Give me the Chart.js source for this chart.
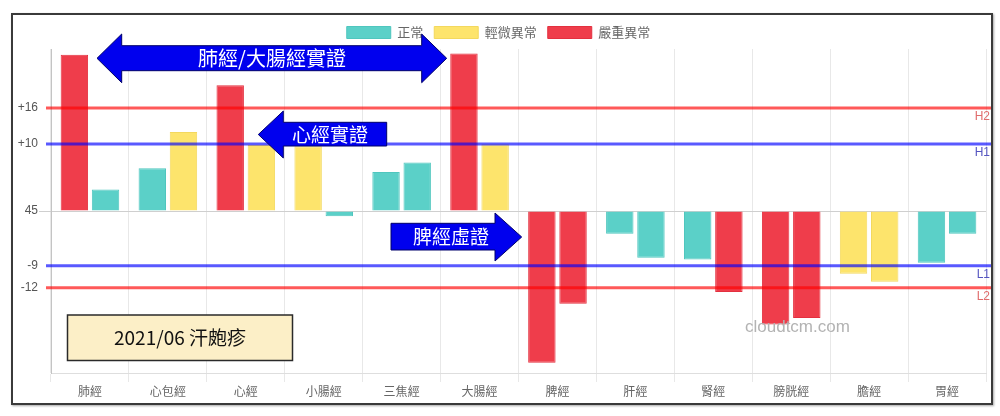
<!DOCTYPE html>
<html><head><meta charset="utf-8">
<script src="https://cdn.jsdelivr.net/npm/chart.js@4"></script>
<style>
html,body{margin:0;padding:0;background:#fff;}
#wrap{position:relative;width:1000px;height:416px;overflow:hidden;}
#frame{position:absolute;left:11px;top:13px;width:978px;height:388px;border:2px solid #3a3a3a;box-shadow:1px 1px 2px rgba(0,0,0,0.35);pointer-events:none;}
canvas{position:absolute;left:0;top:0;}
</style></head>
<body><div id="wrap"><canvas id="c" width="1000" height="416"></canvas><div id="frame"></div></div>
<script>
const categories = ['肺經','心包經','心經','小腸經','三焦經','大腸經','脾經','肝經','腎經','膀胱經','膽經','胃經'];
const leftValues  = [24.1, 6.6, 19.4, 10.0, 6.0, 24.3, -23.4, -3.5, -7.5, -17.5, -9.7, -8.0];
const rightValues = [3.3, 12.2, 10.2, -0.8, 7.5, 10.3, -14.3, -7.2, -12.5, -16.5, -10.9, -3.5];
const leftStatus  = [2, 0, 2, 1, 0, 2, 2, 0, 0, 2, 1, 0];
const rightStatus = [0, 1, 1, 0, 0, 1, 2, 0, 2, 2, 1, 0];
const statusNames = ['正常','輕微異常','嚴重異常'];
const tickValues  = [15.9, 10.35, 0, -8.46, -11.85];
const tickLabels  = ['+16','+10','45','-9','-12'];
const thresholdValues = [15.9, 10.35, -8.46, -11.85];
const thresholdTags   = ['H2','H1','L1','L2'];
const annotationTexts = ['肺經/大腸經實證','心經實證','脾經虛證'];
const noteText = '2021/06 汗皰疹';
const watermarkText = 'cloudtcm.com';

const fills   = ['#5bd0c8','#fde46c','#ef3d4b'];
const borders = ['#4fc6be','#f3d85e','#e3303f'];
const lineColors = ['rgba(255,0,0,0.65)','rgba(0,0,255,0.65)','rgba(0,0,255,0.65)','rgba(255,0,0,0.65)'];
const tagColors  = ['#e06b6b','#5555c0','#5555c0','#e06b6b'];
const CJK = "'Noto Sans CJK TC','Liberation Sans',sans-serif";
const LAT = "'Liberation Sans','Noto Sans CJK TC',sans-serif";

const overlay = {
  id:'overlay',
  afterDatasetsDraw(chart){
    const {ctx, chartArea:a, scales:{y}} = chart;
    ctx.save();
    thresholdValues.forEach((v,i)=>{
      const py = y.getPixelForValue(v);
      ctx.strokeStyle = lineColors[i]; ctx.lineWidth = 3;
      ctx.beginPath(); ctx.moveTo(a.left-5, py); ctx.lineTo(a.right+6, py); ctx.stroke();
      ctx.fillStyle = tagColors[i]; ctx.font = "12px "+LAT;
      ctx.textAlign='right'; ctx.textBaseline='top';
      ctx.fillText(thresholdTags[i], a.right+4, py+3);
    });
    ctx.restore();
  },
  afterDraw(chart){
    const ctx = chart.ctx;
    ctx.save();
    function poly(pts){
      ctx.beginPath(); ctx.moveTo(pts[0][0],pts[0][1]);
      for(let i=1;i<pts.length;i++) ctx.lineTo(pts[i][0],pts[i][1]);
      ctx.closePath(); ctx.fillStyle='#0000ee'; ctx.fill();
      ctx.strokeStyle='#00006a'; ctx.lineWidth=1; ctx.stroke();
    }
    function label(t,x,yy,size){
      ctx.fillStyle='#fff'; ctx.font=size+"px "+CJK;
      ctx.textAlign='center'; ctx.textBaseline='middle'; ctx.fillText(t,x,yy);
    }
    // double arrow
    poly([[97,58.3],[121.7,34],[121.7,45.7],[421.7,45.7],[421.7,34],[446.7,58.3],[421.7,82.7],[421.7,70.7],[121.7,70.7],[121.7,82.7]]);
    label(annotationTexts[0],272,58.5,20);
    // left arrow
    poly([[258.3,134.5],[283.3,111],[283.3,122.3],[386.7,122.3],[386.7,146],[283.3,146],[283.3,158]]);
    label(annotationTexts[1],330,134.5,19);
    // right arrow
    poly([[391,223.3],[495,223.3],[495,213],[521.7,237],[495,261],[495,250],[391,250]]);
    label(annotationTexts[2],451,237,19);
    // note box
    ctx.fillStyle='#fcefc7'; ctx.fillRect(67.5,315,225,45.5);
    ctx.strokeStyle='#2a2a2a'; ctx.lineWidth=1.5; ctx.strokeRect(67.5,315,225,45.5);
    ctx.fillStyle='#111'; ctx.font="19px "+CJK; ctx.textAlign='center'; ctx.textBaseline='middle';
    ctx.fillText(noteText,180,338);
    // watermark
    ctx.fillStyle='#b3b3b3'; ctx.font="17px "+LAT; ctx.textAlign='left';
    ctx.fillText(watermarkText,745,327);
    ctx.restore();
  }
};

new Chart(document.getElementById('c'),{
  type:'bar',
  data:{
    labels:categories,
    datasets:[
      {label:'L',data:leftValues,backgroundColor:leftStatus.map(s=>fills[s]),borderColor:leftStatus.map(s=>borders[s]),borderWidth:1},
      {label:'R',data:rightValues,backgroundColor:rightStatus.map(s=>fills[s]),borderColor:rightStatus.map(s=>borders[s]),borderWidth:1}
    ]
  },
  options:{
    responsive:false, animation:false, devicePixelRatio:1,
    datasets:{bar:{barPercentage:0.88,categoryPercentage:0.8}},
    layout:{padding:{left:11,right:14,top:15,bottom:10}},
    plugins:{
      tooltip:{enabled:false},
      legend:{
        display:true, position:'top', onClick:null,
        labels:{
          boxWidth:44, boxHeight:12, padding:11, color:'#666',
          font:{size:13,family:CJK},
          generateLabels:()=>statusNames.map((n,i)=>({text:n,fillStyle:fills[i],strokeStyle:borders[i],lineWidth:1,hidden:false,fontColor:'#666'}))
        }
      }
    },
    scales:{
      x:{
        grid:{color:'#e8e8e8',offset:true,tickLength:9,drawTicks:true},
        border:{color:'#dedede'},
        ticks:{color:'#666',font:{size:12,family:CJK},padding:2,maxRotation:0},
        afterFit(s){s.height=33;}
      },
      y:{
        min:-25,max:25,
        afterBuildTicks(s){s.ticks=tickValues.map(v=>({value:v}));},
        ticks:{color:'#555',font:{size:12,family:LAT},padding:1,callback:(v,i)=>tickLabels[i]},
        grid:{tickLength:12,color:c=>(c.tick&&c.tick.value===0)?'#cfcfcf':'rgba(0,0,0,0)'},
        border:{color:'#c4c4c4'},
        afterFit(s){s.width=40;}
      }
    }
  },
  plugins:[overlay]
});
</script>
</body></html>
